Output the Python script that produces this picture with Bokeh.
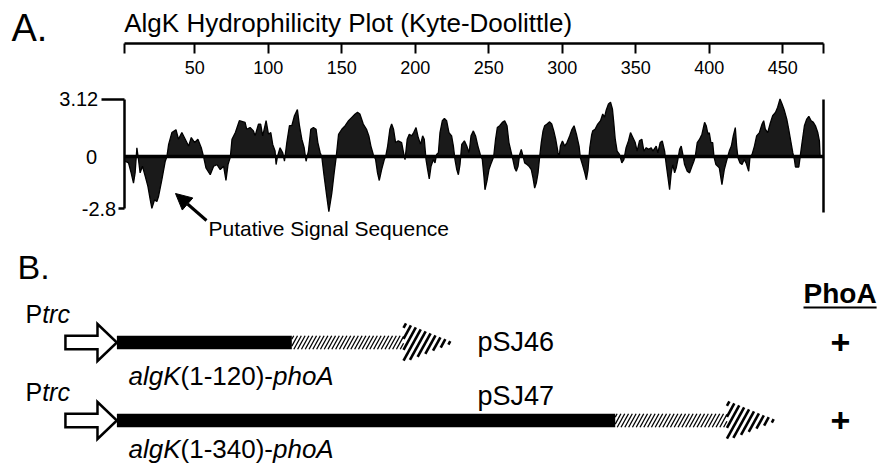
from bokeh.plotting import figure
from bokeh.models import Range1d, LinearAxis, FixedTicker, Arrow, NormalHead
from bokeh.core.properties import value
from bokeh.embed import file_html
from bokeh.resources import INLINE

# ---------------- data ----------------
TITLE = "AlgK Hydrophilicity Plot  (Kyte-Doolittle)"
SEQ_START, SEQ_END = 2, 478
X_TICKS = [50, 100, 150, 200, 250, 300, 350, 400, 450]
Y_TOP_TICK = [3.12]
Y_BOTTOM_TICK = [-2.8]
Y_ZERO = [0]

RESIDUE = [
    2.6, 4.9, 6.7, 8.3, 9.4, 10.6, 11.7, 12.8, 14.4, 16.3, 18.1, 19.7, 20.8, 22.6, 24.2, 25.3,
    27.6, 29.9, 31.0, 32.2, 34.4, 37.2, 38.9, 41.2, 43.5, 45.8, 47.6, 49.9, 52.1, 54.4, 56.0,
    57.6, 60.5, 62.8, 65.1, 67.3, 69.6, 71.2, 72.6, 74.2, 75.3, 77.6, 80.3, 84.2, 85.3, 87.6,
    89.9, 91.0, 93.3, 94.8, 96.2, 98.5, 100.1, 101.7, 103.0, 104.6, 105.3, 106.2, 108.0, 109.8,
    111.0, 112.6, 114.4, 116.0, 117.8, 119.8, 121.2, 122.8, 124.4, 125.7, 127.3, 128.9, 130.7,
    132.5, 133.7, 135.3, 136.4, 138.0, 139.8, 141.2, 143.2, 144.8, 146.2, 147.8, 150.0, 152.3,
    154.6, 156.8, 159.1, 160.7, 162.3, 164.6, 166.8, 168.4, 169.8, 171.4, 173.0, 174.3, 175.5,
    177.1, 178.9, 179.8, 181.2, 182.7, 183.9, 185.2, 186.6, 188.4, 190.7, 191.8, 193.0, 194.5,
    195.9, 197.5, 198.9, 200.5, 202.0, 203.6, 205.0, 206.1, 207.3, 208.4, 209.5, 210.7, 212.3,
    213.4, 214.5, 215.7, 216.8, 218.4, 219.8, 221.3, 222.9, 224.7, 225.9, 227.0, 228.2, 229.3,
    230.4, 231.6, 233.4, 235.0, 236.6, 237.9, 239.5, 241.0, 242.6, 244.2, 245.6, 246.7, 247.4,
    248.7, 250.1, 251.7, 253.3, 254.6, 255.8, 257.4, 259.2, 260.8, 262.4, 263.7, 265.3, 266.4,
    267.6, 268.7, 269.9, 271.0, 272.1, 273.3, 274.4, 276.0, 277.3, 278.9, 280.1, 281.2, 282.3,
    283.5, 284.6, 285.7, 286.9, 288.0, 289.6, 291.4, 292.8, 294.2, 295.5, 297.1, 297.8, 298.7,
    300.1, 301.6, 303.2, 305.0, 306.6, 308.0, 309.6, 311.4, 312.3, 313.7, 315.3, 316.4, 317.5,
    318.7, 320.0, 320.7, 322.3, 324.1, 326.0, 327.5, 328.7, 329.8, 331.4, 332.8, 334.1, 335.0,
    336.0, 337.3, 338.9, 340.5, 341.9, 343.4, 345.0, 346.4, 348.0, 349.6, 350.9, 352.5, 354.1,
    355.5, 357.1, 358.7, 360.5, 361.6, 363.9, 365.0, 366.6, 368.0, 369.6, 370.7, 371.8, 373.0,
    374.1, 375.2, 376.4, 377.5, 378.6, 379.8, 380.9, 382.0, 383.2, 385.0, 386.6, 388.2, 389.5,
    390.4, 391.8, 393.4, 395.0, 396.8, 397.9, 399.1, 400.0, 401.1, 402.3, 403.2, 404.5, 406.8,
    408.6, 410.2, 411.4, 412.5, 413.6, 415.0, 416.3, 417.7, 418.6, 419.5, 420.9, 422.3, 423.8,
    425.0, 426.8, 427.7, 429.1, 430.7, 432.2, 434.1, 435.9, 437.0, 438.1, 439.7, 441.3, 443.1,
    445.0, 446.5, 448.1, 449.5, 451.1, 452.7, 454.0, 455.6, 456.8, 457.9, 458.6, 460.9, 461.8,
    463.1, 464.7, 466.3, 467.7, 469.3, 470.8, 472.2, 473.8, 474.9, 475.4,
]
HYDROPATHY = [
    -0.24, -0.33, -0.87, -1.42, -0.87, 0.49, -0.15, -0.87, -0.51, -1.06, -1.60, -2.33, -2.79, -2.33, -2.42, -2.15,
    -1.24, -0.24, 0.00, 0.67, 1.31, 1.46, 0.95, 1.31, 0.95, 0.58, 1.04, 0.77, 0.95, 0.49, 0.00,
    -0.60, -0.97, -0.51, -0.42, -0.69, -0.51, -1.28, -0.42, 0.00, 0.95, 1.31, 1.95, 1.86, 1.49, 1.58,
    1.40, 1.13, 1.77, 1.77, 1.13, 1.95, 1.22, 1.31, 0.67, 0.31, -0.42, 0.00, 0.49, 0.22,
    -0.24, 0.77, 1.68, 1.68, 2.22, 2.55, 1.68, 0.95, 0.49, -0.24, 0.31, 1.49, 1.58,
    1.49, 0.77, 0.22, 0.00, -1.06, -2.15, -2.97, -1.97, -0.87, 0.00, 1.22, 1.49, 1.68,
    1.95, 2.13, 2.31, 2.40, 2.31, 1.77, 1.49, 1.13, 0.58, 0.13, -0.15, -0.87, -1.28,
    -0.69, -0.15, 0.00, 0.58, 1.49, 1.77, 1.49, 0.77, 0.86, 0.77, 0.31, -0.15, 0.95,
    1.22, 1.13, 1.31, 1.58, 1.04, 0.67, 1.13, 0.95, -0.15, -0.69, -1.20, -0.51, -0.15,
    -0.33, 0.13, 0.22, 1.31, 1.95, 2.08, 1.95, 1.31, 1.13, 0.58, -0.15, -0.69, -0.97,
    -0.42, 0.67, 0.86, 0.58, 0.22, 1.13, 1.40, 1.13, 0.58, 0.13, -0.15, -1.06, -1.78,
    -1.33, -0.69, -0.33, 0.00, 0.95, 1.58, 1.68, 1.86, 1.95, 1.68, 0.77, 0.22, -0.15,
    -0.60, -0.78, -0.51, 0.13, 0.40, 0.04, -0.33, -0.42, -0.51, -0.69, -1.15, -1.69, -1.42,
    -0.87, 0.00, 0.77, 1.40, 1.68, 1.77, 1.89, 1.77, 1.40, 0.95, 0.22, -0.05, 0.58,
    0.86, 0.58, 0.77, 1.13, 1.49, 1.68, 1.22, 0.58, -0.05, -0.42, -0.87, -1.24, -0.69,
    0.49, 1.20, 1.40, 1.49, 1.77, 1.95, 2.31, 2.13, 2.50, 2.86, 2.95, 2.59, 1.86,
    0.95, 0.31, 0.13, -0.33, -0.15, 0.49, 0.86, 1.31, 1.04, 0.77, 0.31, 0.86, 0.95,
    0.31, 0.49, 0.40, 0.49, 0.31, 0.58, 0.22, 0.77, 0.86, 0.31, -0.42, -1.06, -1.78,
    -0.87, -0.42, -0.87, -0.60, -0.15, 0.40, 0.58, 0.13, -0.42, -0.78, -0.87, -0.51, -0.24,
    0.00, 0.77, 0.95, 1.22, 1.86, 1.68, 1.22, 1.30, 0.77, 0.77, 0.00, -0.42, -0.60,
    -1.51, -0.69, -0.33, 0.00, 0.31, 0.58, 1.13, 1.58, 0.58, -0.05, -0.33, -0.42, -0.15,
    -0.33, -0.78, 0.00, 0.13, 0.58, 1.13, 1.31, 1.77, 1.95, 1.49, 1.31, 1.77, 2.22,
    2.40, 2.68, 3.13, 2.86, 2.50, 2.04, 1.49, 0.77, 0.22, -0.15, -0.55, -0.55, 0.00,
    0.77, 1.68, 2.04, 2.19, 1.95, 1.86, 1.68, 1.31, 0.86, 0.00,
]

SIGNAL_LABEL = "Putative Signal Sequence"

# panel B: gene fusions
CONSTRUCT_START = [1, 1]
CONSTRUCT_END = [120, 340]
CONSTRUCT_ROW = [1, 2]
FUSION_NAME = ["(1-120)-", "(1-340)-"]
PLASMID = ["pSJ46", "pSJ47"]
PHOA_ACTIVITY = ["+", "+"]

# ---------------- layout (page pixels) ----------------
FONT = "Liberation Sans"
W, H = 886, 466
RES0_PX, PX_PER_RES = 120.8, 1.47      # page x of residue 0, pixels per residue
ZERO_PX, PX_PER_UNIT = 156.3, 18.5     # page y of hydropathy 0, pixels per unit
ROW1_PX, ROW_STEP = 342.0, 78.0        # page y of construct row 1, row spacing


def rx(px):
    return (px - RES0_PX) / PX_PER_RES


def vy(py):
    return (ZERO_PX - py) / PX_PER_UNIT


def ry(py):
    return 1 + (py - ROW1_PX) / ROW_STEP


def px_of_res(r):
    return RES0_PX + r * PX_PER_RES


def py_of_row(r):
    return ROW1_PX + (r - 1) * ROW_STEP


WIDTHS = {' ': 278, '(': 333, ')': 333, '-': 333, '+': 584, 'A': 667, 'K': 667, 'P': 667,
          'S': 667, 'J': 500, 'a': 556, 'c': 500, 'g': 556, 'h': 556, 'l': 222, 'o': 556,
          'p': 556, 'r': 333, 't': 278}
for d in "0123456789":
    WIDTHS[d] = 556
BOLD_WIDTHS = {'P': 667, 'h': 611, 'o': 611, 'A': 722}


def tw(s, size, bold=False):
    tab = BOLD_WIDTHS if bold else WIDTHS
    return sum(tab.get(ch, 556) for ch in s) * size / 1000.0


def txt(x, y, text, size, style="normal", align="left", rows=False, **kw):
    extra = {"y_range_name": "rows"} if rows else {}
    p.text(x=x, y=y, text=text, text_font=value(FONT), text_font_size=f"{size}px",
           text_font_style=style, text_align=align, text_baseline="middle",
           text_color="black", **extra, **kw)


p = figure(width=W, height=H,
           x_range=Range1d(rx(0), rx(W)),
           y_range=Range1d(vy(H), vy(0)),
           x_axis_type=None, y_axis_type=None,
           output_backend="svg", toolbar_location=None, min_border=0)
p.outline_line_color = None
p.background_fill_color = "white"
p.border_fill_color = "white"
p.extra_y_ranges = {"rows": Range1d(ry(H), ry(0))}

# ---------------- panel A ----------------
p.varea(x=RESIDUE, y1=[0] * len(RESIDUE), y2=HYDROPATHY, fill_color="#1a1a1a")
p.line(x=RESIDUE, y=HYDROPATHY, line_color="black", line_width=1.3)

AX_FONT = dict(major_label_text_font=FONT, major_label_text_color="black",
               minor_tick_line_color=None)

top_axis = LinearAxis(
    fixed_location=vy(43), bounds=(SEQ_START, SEQ_END),
    ticker=FixedTicker(ticks=[SEQ_START] + X_TICKS + [SEQ_END]),
    major_label_overrides={SEQ_START: "", SEQ_END: ""},
    major_tick_in=0, major_tick_out=10, major_label_standoff=7,
    axis_line_width=2.5, major_tick_line_width=2, major_label_text_font_size="18px",
    **AX_FONT)
p.add_layout(top_axis, "below")

zero_axis = LinearAxis(fixed_location=0, bounds=(SEQ_START, SEQ_END),
                       ticker=FixedTicker(ticks=[]), axis_line_width=3.5,
                       minor_tick_line_color=None)
p.add_layout(zero_axis, "below")

y_axis = LinearAxis(
    fixed_location=SEQ_START, bounds=(Y_BOTTOM_TICK[0], Y_TOP_TICK[0]),
    ticker=FixedTicker(ticks=Y_TOP_TICK),
    major_tick_in=0, major_tick_out=23, major_label_standoff=3,
    axis_line_width=2.5, major_tick_line_width=2.5, major_label_text_font_size="20px",
    **AX_FONT)
p.add_layout(y_axis, "left")

yb_axis = LinearAxis(
    fixed_location=SEQ_START, ticker=FixedTicker(ticks=Y_BOTTOM_TICK),
    major_label_overrides={Y_BOTTOM_TICK[0]: "-2.8"}, axis_line_color=None,
    major_tick_in=0, major_tick_out=6, major_label_standoff=2,
    major_tick_line_width=2.5, major_label_text_font_size="20px", **AX_FONT)
p.add_layout(yb_axis, "left")

y0_axis = LinearAxis(
    fixed_location=SEQ_START, ticker=FixedTicker(ticks=Y_ZERO),
    axis_line_color=None, major_tick_line_color=None,
    major_tick_in=0, major_tick_out=23, major_label_standoff=4,
    major_label_text_font_size="20px", **AX_FONT)
p.add_layout(y0_axis, "left")

right_axis = LinearAxis(fixed_location=SEQ_END, bounds=(-3.0, Y_TOP_TICK[0]),
                        ticker=FixedTicker(ticks=[]), axis_line_width=2.5,
                        minor_tick_line_color=None)
p.add_layout(right_axis, "right")

txt([rx(11)], [vy(27.5)], ["A."], 38)
txt([SEQ_START], [vy(22)], [TITLE], 26)
txt([rx(208)], [vy(228)], [SIGNAL_LABEL], 21)
p.add_layout(Arrow(end=NormalHead(size=16, fill_color="black", line_color="black"),
                   x_start=rx(206), y_start=vy(220), x_end=rx(175), y_end=vy(193),
                   line_width=3, line_color="black"))

# ---------------- panel B ----------------
SHIFT = -4            # schematic starts slightly left of residue 1
PROM_TAIL, PROM_NECK = -38.0, -16.2
PROM_BODY, PROM_HEAD = 6.7 / ROW_STEP, 18.5 / ROW_STEP
BAR_HALF_PX = 6.8
PHOA_BODY, PHOA_HEAD = 76, 34
PHOA_HALF_PX = 20.0

starts = [s + SHIFT for s in CONSTRUCT_START]
ends = [e + SHIFT for e in CONSTRUCT_END]

prom_xs, prom_ys = [], []
for s, r in zip(starts, CONSTRUCT_ROW):
    prom_xs.append([PROM_TAIL, PROM_NECK, PROM_NECK, s, PROM_NECK, PROM_NECK, PROM_TAIL])
    prom_ys.append([r - PROM_BODY, r - PROM_BODY, r - PROM_HEAD, r, r + PROM_HEAD,
                    r + PROM_BODY, r + PROM_BODY])
p.patches(xs=prom_xs, ys=prom_ys, fill_color="white", line_color="black",
          line_width=2.5, line_join="miter", y_range_name="rows")

bh = BAR_HALF_PX / ROW_STEP
p.quad(left=starts, right=ends, bottom=[r + bh for r in CONSTRUCT_ROW],
       top=[r - bh for r in CONSTRUCT_ROW], fill_color="black", line_color=None,
       y_range_name="rows")


def stripes_rect(x0, x1, yt, yb, period, s):
    out = []
    c = x0 + s * yt + period / 2
    while c < x1 + s * yb:
        lo = max(yt, (c - x1) / s)
        hi = min(yb, (c - x0) / s)
        if lo < hi:
            out.append(((c - s * lo, lo), (c - s * hi, hi)))
        c += period
    return out


def stripes_tri(xb, xt, yc, hh, period, s):
    out = []
    k = hh / (xt - xb)
    cmin, cmax = xb + s * (yc - hh), xt + s * yc
    c = cmin + period / 2
    while c < cmax:
        lo = (yc - k * (xt - c)) / (1 + k * s)
        hi = min((yc + k * (xt - c)) / (1 - k * s), (c - xb) / s)
        if lo < hi:
            out.append(((c - s * lo, lo), (c - s * hi, hi)))
        c += period
    return out


def to_data(segs):
    xs = [[rx(a[0]), rx(b[0])] for a, b in segs]
    ys = [[ry(a[1]), ry(b[1])] for a, b in segs]
    return xs, ys


body_segs, head_segs = [], []
for e, r in zip(ends, CONSTRUCT_ROW):
    yc = py_of_row(r)
    x0, x1 = px_of_res(e), px_of_res(e + PHOA_BODY)
    x2 = px_of_res(e + PHOA_BODY + PHOA_HEAD)
    body_segs += stripes_rect(x0, x1, yc - BAR_HALF_PX, yc + BAR_HALF_PX, 3.8, 0.55)
    head_segs += stripes_tri(x1, x2, yc, PHOA_HALF_PX, 6.0, 0.55)

bx, by = to_data(body_segs)
p.multi_line(xs=bx, ys=by, line_color="black", line_width=1.3, y_range_name="rows")
hx, hy = to_data(head_segs)
p.multi_line(xs=hx, ys=hy, line_color="black", line_width=2.6, y_range_name="rows")

txt([rx(17)], [ry(266.5)], ["B."], 34, rows=True)

# promoter labels  P + italic trc
PT = 25
ptrc_y = [r - 29 / ROW_STEP for r in CONSTRUCT_ROW]
txt([rx(25)] * 2, ptrc_y, ["P", "P"], PT, rows=True)
txt([rx(25)] * 2, ptrc_y, ["trc", "trc"], PT, style="italic", rows=True,
    x_offset=tw("P", PT))

# fusion labels  italic algK + (1-xxx)- + italic phoA
FZ = 26
fz_y = [ry(375), ry(448)]
fz_x = [rx(128)] * 2
txt(fz_x, fz_y, ["algK"] * 2, FZ, style="italic", rows=True)
txt(fz_x, fz_y, FUSION_NAME, FZ, rows=True, x_offset=tw("algK", FZ))
txt(fz_x, fz_y, ["phoA"] * 2, FZ, style="italic", rows=True,
    x_offset=[tw("algK" + n, FZ) for n in FUSION_NAME])

# plasmid names
txt([rx(477)] * 2, [ry(341), ry(395)], PLASMID, 27, rows=True)

# PhoA column
PH = 28
txt([rx(803)], [ry(292.5)], ["PhoA"], PH, style="bold", rows=True)
p.line(x=[rx(803), rx(803 + tw("PhoA", PH, True))], y=[ry(307), ry(307)],
       line_color="black", line_width=2, y_range_name="rows")
txt([rx(840)] * 2, [r - 0.5 / ROW_STEP for r in CONSTRUCT_ROW], PHOA_ACTIVITY, 34,
    style="bold", align="center", rows=True)

open("out.html", "w").write(file_html(p, INLINE))
